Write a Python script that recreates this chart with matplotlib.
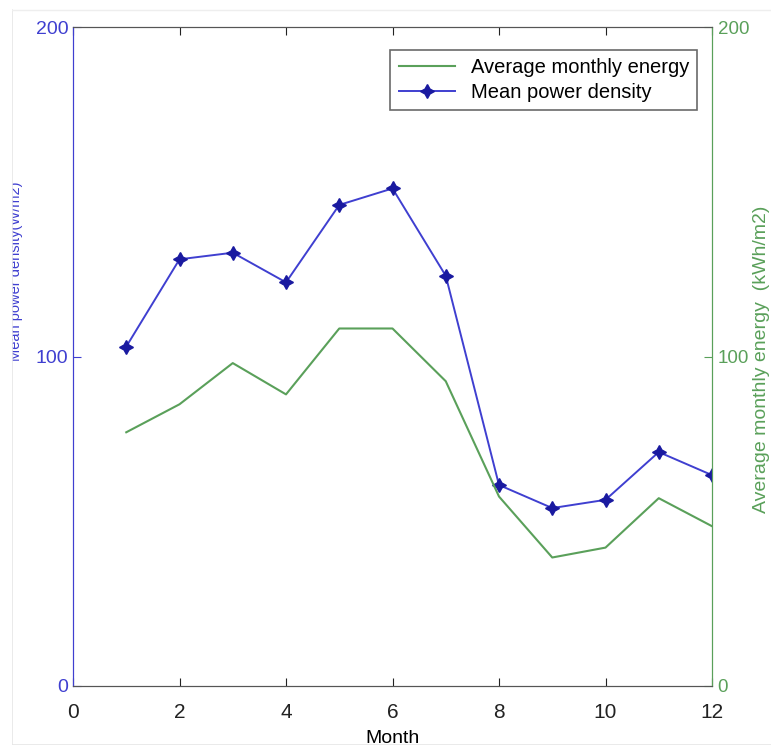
import matplotlib.pyplot as plt
from matplotlib.lines import Line2D
from matplotlib.patches import Rectangle

# monthly data
months = [1, 2, 3, 4, 5, 6, 7, 8, 9, 10, 11, 12]
power_density = [103, 129.5, 131.5, 122.5, 146, 151, 124.5, 61, 54, 56.5, 71, 64]
monthly_energy = [77, 85.5, 98, 88.5, 108.5, 108.5, 92.5, 57.5, 39, 42, 57, 48.5]
xticks = [0, 2, 4, 6, 8, 10, 12]
yticks = [0, 100, 200]

blue = '#3f3fd0'
green = '#5aa05a'

plt.rcParams['font.family'] = ['Liberation Sans', 'DejaVu Sans']

fig = plt.figure(figsize=(7.71, 7.49), dpi=100)
ax1 = fig.add_axes([73 / 771, 63 / 749, 639 / 771, 659 / 749])
ax2 = ax1.twinx()

# power density on left axis (blue), energy on right axis (green)
l2, = ax2.plot(months, monthly_energy, color=green, lw=1.5,
               label='Average monthly energy')
l1, = ax1.plot(months, power_density, color=blue, lw=1.4, marker=(4, 1, 0),
               ms=10, mfc='#1a1aa0', mec='#1a1aa0',
               label='Mean power density')

ax1.set_xlim(0, 12)
ax1.set_ylim(0, 200)
ax2.set_ylim(0, 200)
ax1.set_xticks(xticks)
ax1.set_yticks(yticks)
ax2.set_yticks(yticks)

ax1.tick_params(axis='x', direction='in', top=True, length=6, pad=12,
                labelsize=15, colors='#222222')
ax1.tick_params(axis='y', direction='in', length=6, labelsize=14,
                colors=blue)
ax2.tick_params(axis='y', direction='in', length=6, labelsize=13.5,
                colors=green, pad=4)

for a in (ax1, ax2):
    a.spines['top'].set_color('#555555')
    a.spines['bottom'].set_color('#555555')
    a.spines['left'].set_color(blue)
    a.spines['right'].set_color(green)

ax1.set_xlabel('Month', fontsize=14, labelpad=6)
ax1.set_ylabel('Mean power density(W/m2)', fontsize=10.5, color=blue)
ax1.yaxis.set_label_coords(-0.078, 0.63)
ax2.set_ylabel('Average monthly energy  (kWh/m2)', fontsize=14, color=green)
ax2.yaxis.set_label_coords(1.064, 0.495)

leg = ax1.legend([l2, l1], ['Average monthly energy', 'Mean power density'],
                 loc='upper right', bbox_to_anchor=(0.993, 0.98),
                 fontsize=14.5, frameon=True, fancybox=False,
                 edgecolor='#444444', handlelength=2.8, borderpad=0.4,
                 labelspacing=0.3)
leg.get_frame().set_linewidth(1.2)

# light frame of the scanned picture
fig.patches.append(Rectangle((0, 0), 12 / 771, 1, transform=fig.transFigure,
                             facecolor='white', edgecolor='none', zorder=10))
fig.patches.append(Rectangle((0, 0), 1, 4 / 749, transform=fig.transFigure,
                             facecolor='white', edgecolor='none', zorder=10))
fig.lines.append(Line2D([12 / 771, 12 / 771], [4 / 749, 0.987],
                        transform=fig.transFigure, color='#e6e6e6', lw=1.2))
fig.lines.append(Line2D([12 / 771, 1], [4 / 749, 4 / 749],
                        transform=fig.transFigure, color='#e6e6e6', lw=1.2))
fig.lines.append(Line2D([12 / 771, 1], [0.987, 0.987],
                        transform=fig.transFigure, color='#eeeeee', lw=1.0))

fig.savefig('out.png', dpi=100)
